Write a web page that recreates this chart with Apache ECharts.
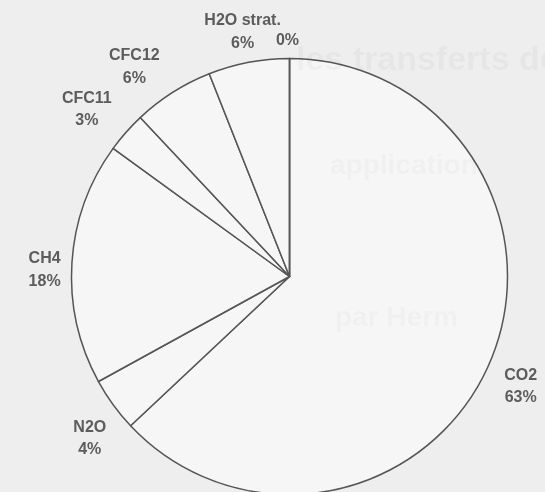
<!DOCTYPE html>
<html><head><meta charset="utf-8">
<script src="https://cdn.jsdelivr.net/npm/echarts@6/dist/echarts.min.js"></script>
<style>html,body{margin:0;padding:0;background:#eeeeee}#c{width:545px;height:492px}</style>
</head><body><div id="c"></div>
<script>
// Data
const categories = ['CO2', 'N2O', 'CH4', 'CFC11', 'CFC12', 'H2O strat.', ''];
const shares = [63, 4, 18, 3, 6, 6, 0];
// Style: gap between circle and label box, and small label nudges, per slice
const labelGaps = [11, 11, 10, 12, 11, 3, 8];
const labelNudges = [[-1, 9.5], [7, 12], [0, 9], [-5, 7.5], [-15, 11.5], [0, 1.5], [-2, 1]];

const chart = echarts.init(document.getElementById('c'), null, {renderer: 'canvas'});

function layoutLabel(p) {
  const data = chart.getModel().getSeriesByIndex(0).getData();
  const lay = data.getItemLayout(p.dataIndex);
  const mid = (lay.startAngle + lay.endAngle) / 2;
  const ux = Math.cos(mid), uy = Math.sin(mid);
  const w = p.labelRect.width, h = p.labelRect.height;
  const half = Math.abs(ux) * w / 2 + Math.abs(uy) * h / 2;
  const d = lay.r + labelGaps[p.dataIndex] + half;
  const n = labelNudges[p.dataIndex];
  return {x: lay.cx + d * ux + n[0], y: lay.cy + d * uy + n[1], align: 'center', verticalAlign: 'middle'};
}

const option = {
  backgroundColor: '#eeeeee',
  animation: false,
  graphic: [
    {type: 'text', left: 296, top: 44, silent: true, z: 100,
     style: {text: 'les transferts de', font: 'bold 34px "Liberation Sans"', fill: 'rgba(0,0,0,0.03)'}},
    {type: 'text', left: 330, top: 152, silent: true, z: 100,
     style: {text: 'application', font: 'bold 28px "Liberation Sans"', fill: 'rgba(0,0,0,0.025)'}},
    {type: 'text', left: 335, top: 304, silent: true, z: 100,
     style: {text: 'par Herm', font: 'bold 28px "Liberation Sans"', fill: 'rgba(0,0,0,0.025)'}}
  ],
  series: [{
    type: 'pie',
    center: [289.5, 276.5],
    radius: 218,
    startAngle: 90,
    clockwise: true,
    avoidLabelOverlap: false,
    silent: true,
    stillShowZeroSum: true,
    itemStyle: {color: '#f6f6f6', borderColor: '#555555', borderWidth: 1.5},
    label: {
      show: true,
      position: 'outside',
      fontFamily: '"Liberation Sans", Arial, sans-serif',
      fontSize: 16,
      fontWeight: 'bold',
      color: '#5c5c5c',
      lineHeight: 22.5,
      align: 'center',
      formatter: p => p.name ? p.name + '\n' + p.value + '%' : p.value + '%'
    },
    labelLine: {show: false},
    labelLayout: layoutLabel,
    emphasis: {disabled: true},
    data: categories.map((c, i) => ({name: c, value: shares[i]}))
  }]
};
chart.setOption(option);
</script>
</body></html>
